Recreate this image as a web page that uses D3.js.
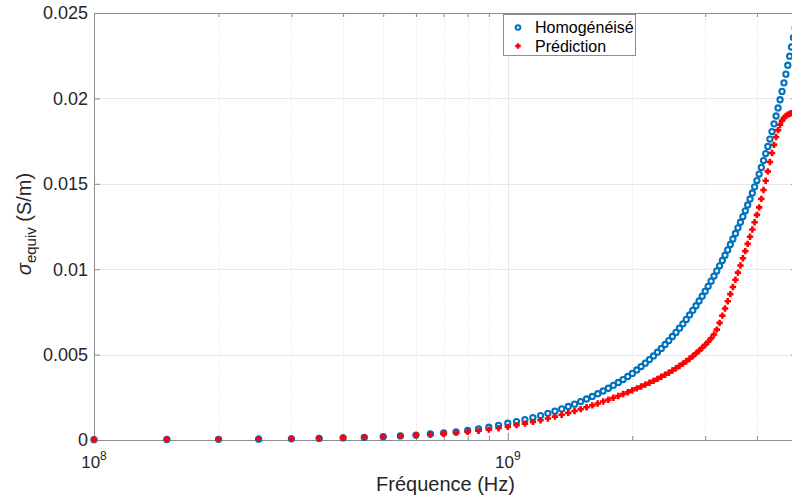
<!DOCTYPE html>
<html>
<head>
<meta charset="utf-8">
<script src="https://cdn.jsdelivr.net/npm/d3@7"></script>
<style>
    body { margin: 0; background: #ffffff; }
    svg { display: block; font-family: "Liberation Sans", Arial, Helvetica, sans-serif; }
</style>
</head>
<body>
<div id="canvas"></div>
<script>
"use strict"

// frequencies in GHz (one point every 0.05 GHz)
let freqGHz = [
    0.10, 0.15, 0.20, 0.25, 0.30, 0.35, 0.40, 0.45, 0.50, 0.55, 0.60, 0.65, 0.70, 0.75, 0.80, 0.85, 0.90, 0.95, 1.00,
    1.05, 1.10, 1.15, 1.20, 1.25, 1.30, 1.35, 1.40, 1.45, 1.50, 1.55, 1.60, 1.65, 1.70, 1.75, 1.80, 1.85, 1.90, 1.95, 2.00,
    2.05, 2.10, 2.15, 2.20, 2.25, 2.30, 2.35, 2.40, 2.45, 2.50, 2.55, 2.60, 2.65, 2.70, 2.75, 2.80, 2.85, 2.90, 2.95, 3.00,
    3.05, 3.10, 3.15, 3.20, 3.25, 3.30, 3.35, 3.40, 3.45, 3.50, 3.55, 3.60, 3.65, 3.70, 3.75, 3.80, 3.85, 3.90, 3.95, 4.00,
    4.05, 4.10, 4.15, 4.20, 4.25, 4.30, 4.35, 4.40, 4.45, 4.50, 4.55, 4.60, 4.65, 4.70, 4.75, 4.80, 4.85, 4.90, 4.95, 5.00
];

// sigma equiv (S/m), homogenised model
let homogenise = [
    0.00002, 0.00003, 0.00004, 0.00005, 0.00007, 0.00009, 0.00012, 0.00015, 0.00019, 0.00024, 0.00029, 0.00035, 0.00041, 0.00048, 0.00056, 0.00065, 0.00075, 0.00086, 0.00098,
    0.00108, 0.00119, 0.00131, 0.00143, 0.00156, 0.00169, 0.00182, 0.00196, 0.0021, 0.00225, 0.0024, 0.00255, 0.00271, 0.00287, 0.00303, 0.0032, 0.00337, 0.00354, 0.00372, 0.0039,
    0.0041, 0.0043, 0.0045, 0.00471, 0.00492, 0.00514, 0.00536, 0.00559, 0.00582, 0.00606, 0.0063, 0.00655, 0.0068, 0.00706, 0.00732, 0.00759, 0.00786, 0.00814, 0.00842, 0.00871,
    0.009, 0.0093, 0.0096, 0.0099, 0.0102, 0.01051, 0.01082, 0.01113, 0.01145, 0.01177, 0.01209, 0.01242, 0.01275, 0.01308, 0.01342, 0.01376, 0.01411, 0.01446, 0.01482, 0.01519,
    0.01557, 0.01596, 0.01636, 0.01677, 0.01719, 0.01762, 0.01806, 0.01851, 0.01897, 0.01944, 0.01992, 0.02041, 0.02091, 0.02142, 0.02194, 0.02247, 0.02301, 0.02356, 0.02412, 0.02469
];

// sigma equiv (S/m), prediction
let prediction = [
    0.00003, 0.00004, 0.00005, 0.00007, 0.00009, 0.00011, 0.00014, 0.00017, 0.0002, 0.00024, 0.00028, 0.00032, 0.00037, 0.00042, 0.00048, 0.00054, 0.00061, 0.00069, 0.00077,
    0.00087, 0.00096, 0.00106, 0.00116, 0.00126, 0.00137, 0.00148, 0.00159, 0.0017, 0.00181, 0.00192, 0.00203, 0.00214, 0.00225, 0.00236, 0.00247, 0.00258, 0.00269, 0.0028, 0.00291,
    0.00302, 0.00313, 0.00324, 0.00335, 0.00346, 0.00358, 0.0037, 0.00382, 0.00394, 0.00407, 0.0042, 0.00433, 0.00447, 0.00461, 0.00476, 0.00491, 0.00507, 0.00523, 0.0054, 0.00557,
    0.00575, 0.00595, 0.00618, 0.00646, 0.00686, 0.00728, 0.0077, 0.00812, 0.00854, 0.00896, 0.00938, 0.0098, 0.01022, 0.01064, 0.01106, 0.01148, 0.0119, 0.01232, 0.01275, 0.01318,
    0.01362, 0.01412, 0.01464, 0.01518, 0.01573, 0.01628, 0.0168, 0.01728, 0.01774, 0.01814, 0.01846, 0.0187, 0.01886, 0.01897, 0.01905, 0.0191, 0.01914, 0.01917, 0.01919, 0.0192
];

// ticks
let xMajorTicks = [1e8, 1e9];
let xMajorLabels = ["8", "9"];   // exponents of 10
let xMinorTicks = [2e8, 3e8, 4e8, 5e8, 6e8, 7e8, 8e8, 9e8, 2e9, 3e9, 4e9, 5e9];
let yTicks = [0, 0.005, 0.01, 0.015, 0.02, 0.025];
let yTickLabels = ["0", "0.005", "0.01", "0.015", "0.02", "0.025"];
let seriesNames = ["Homogénéisé", "Prédiction"];

let svgWidth = 792;
let svgHeight = 499;

// axes box (right side goes past the window edge)
let plot = { left: 94, right: 797, top: 13, bottom: 440 };

let blue = "#0072BD";
let red = "#FF0000";
let axisColor = "#8c8c8c";
let textColor = "#262626";

let svg = d3.select("#canvas")
    .append("svg")
    .attr("width", svgWidth)
    .attr("height", svgHeight);

svg.append("rect")
    .attr("width", svgWidth)
    .attr("height", svgHeight)
    .attr("fill", "#ffffff");

let x = d3.scaleLog()
    .domain([1e8, 5e9])
    .range([plot.left, plot.right]);

let y = d3.scaleLinear()
    .domain([0, 0.025])
    .range([plot.bottom, plot.top]);

// grid
let grid = svg.append("g");

grid.selectAll(".ygrid")
    .data(yTicks.slice(1, -1))
    .join("line")
    .attr("x1", plot.left).attr("x2", plot.right)
    .attr("y1", d => Math.round(y(d)) + 0.5).attr("y2", d => Math.round(y(d)) + 0.5)
    .attr("stroke", "#e8e8e8");

grid.selectAll(".xgrid")
    .data(xMajorTicks.slice(1))
    .join("line")
    .attr("x1", d => Math.round(x(d)) + 0.5).attr("x2", d => Math.round(x(d)) + 0.5)
    .attr("y1", plot.top).attr("y2", plot.bottom)
    .attr("stroke", "#e8e8e8");

grid.selectAll(".xminor")
    .data(xMinorTicks)
    .join("line")
    .attr("x1", d => Math.round(x(d)) + 0.5).attr("x2", d => Math.round(x(d)) + 0.5)
    .attr("y1", plot.top).attr("y2", plot.bottom)
    .attr("stroke", "#dedede")
    .attr("stroke-dasharray", "1,2");

// axis lines + inward ticks, drawn with d3 axes
function styleAxis(g) {
    g.select(".domain").attr("stroke", axisColor);
    g.selectAll(".tick line").attr("stroke", axisColor);
    g.selectAll(".tick text").remove();
}

svg.append("g")
    .attr("transform", "translate(0," + plot.bottom + ")")
    .call(d3.axisBottom(x).tickValues(xMajorTicks).tickSize(-7).tickSizeOuter(0).tickFormat(""))
    .call(styleAxis);

svg.append("g")
    .attr("transform", "translate(0," + plot.bottom + ")")
    .call(d3.axisBottom(x).tickValues(xMinorTicks).tickSize(-4).tickSizeOuter(0).tickFormat(""))
    .call(styleAxis);

svg.append("g")
    .attr("transform", "translate(0," + plot.top + ")")
    .call(d3.axisTop(x).tickValues(xMajorTicks).tickSize(-7).tickSizeOuter(0).tickFormat(""))
    .call(styleAxis);

svg.append("g")
    .attr("transform", "translate(0," + plot.top + ")")
    .call(d3.axisTop(x).tickValues(xMinorTicks).tickSize(-4).tickSizeOuter(0).tickFormat(""))
    .call(styleAxis);

svg.append("g")
    .attr("transform", "translate(" + plot.left + ",0)")
    .call(d3.axisLeft(y).tickValues(yTicks).tickSize(-6).tickSizeOuter(0).tickFormat(""))
    .call(styleAxis);

svg.append("g")
    .attr("transform", "translate(" + plot.right + ",0)")
    .call(d3.axisRight(y).tickValues(yTicks).tickSize(-6).tickSizeOuter(0).tickFormat(""))
    .call(styleAxis);

// y tick labels
svg.selectAll(".ylab")
    .data(yTicks)
    .join("text")
    .attr("x", plot.left - 6)
    .attr("y", d => y(d))
    .attr("dy", "0.35em")
    .attr("text-anchor", "end")
    .attr("fill", textColor)
    .style("font-size", "18px")
    .text((d, i) => yTickLabels[i]);

// x tick labels 10^n
let xl = svg.selectAll(".xlab")
    .data(xMajorTicks)
    .join("text")
    .attr("x", d => x(d))
    .attr("y", 468)
    .attr("text-anchor", "middle")
    .attr("fill", textColor)
    .style("font-size", "17px");
xl.append("tspan").text("10");
xl.append("tspan")
    .attr("dy", -8)
    .style("font-size", "12px")
    .text((d, i) => xMajorLabels[i]);

// axis titles
svg.append("text")
    .attr("x", (plot.left + plot.right) / 2)
    .attr("y", 491)
    .attr("text-anchor", "middle")
    .attr("fill", textColor)
    .style("font-size", "20px")
    .text("Fréquence (Hz)");

let yt = svg.append("text")
    .attr("transform", "translate(31,224) rotate(-90)")
    .attr("text-anchor", "middle")
    .attr("fill", textColor)
    .style("font-size", "20px");
yt.append("tspan").style("font-style", "italic").text("σ");
yt.append("tspan").attr("dy", 5).style("font-size", "15px").text("equiv");
yt.append("tspan").attr("dy", -5).text(" (S/m)");

// markers
let plusPath = "M-3.2,0H3.2M0,-3.2V3.2";

svg.append("g")
    .selectAll("circle")
    .data(freqGHz)
    .join("circle")
    .attr("cx", d => x(d * 1e9))
    .attr("cy", (d, i) => y(homogenise[i]))
    .attr("r", 2.6)
    .attr("fill", "none")
    .attr("stroke", blue)
    .attr("stroke-width", 2.1);

svg.append("g")
    .selectAll("path")
    .data(freqGHz)
    .join("path")
    .attr("transform", (d, i) => "translate(" + x(d * 1e9) + "," + y(prediction[i]) + ")")
    .attr("d", plusPath)
    .attr("fill", "none")
    .attr("stroke", red)
    .attr("stroke-width", 2.6);

// legend
let lg = svg.append("g");
lg.append("rect")
    .attr("x", 503.5).attr("y", 14.5)
    .attr("width", 132).attr("height", 41)
    .attr("fill", "#ffffff")
    .attr("stroke", axisColor);

lg.append("circle")
    .attr("cx", 518).attr("cy", 27.5)
    .attr("r", 2.3)
    .attr("fill", "none")
    .attr("stroke", blue)
    .attr("stroke-width", 2);

lg.append("path")
    .attr("transform", "translate(518,46)")
    .attr("d", "M-2.8,0H2.8M0,-2.8V2.8")
    .attr("stroke", red)
    .attr("stroke-width", 2.4);

lg.selectAll(".legtext")
    .data(seriesNames)
    .join("text")
    .attr("x", 535)
    .attr("y", (d, i) => 33 + i * 18.5)
    .attr("fill", "#000000")
    .style("font-size", "16px")
    .text(d => d);
</script>
</body>
</html>
